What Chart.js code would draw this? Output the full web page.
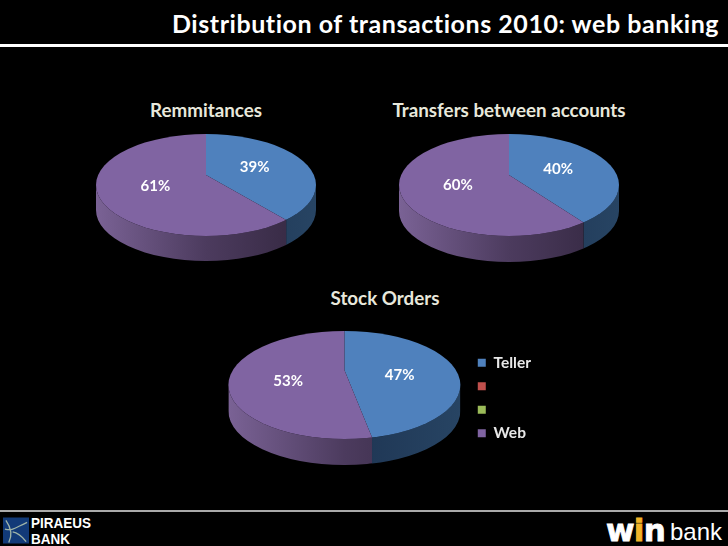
<!DOCTYPE html>
<html>
<head>
<meta charset="utf-8">
<script src="https://cdn.jsdelivr.net/npm/chart.js@4"></script>
<style>
html,body{margin:0;padding:0;background:#000;overflow:hidden}
#slide{position:relative;width:728px;height:546px;background:#000;overflow:hidden;font-family:Lato,sans-serif;font-variant-ligatures:none}
canvas{position:absolute}
.txt{position:absolute;white-space:nowrap;color:#fff}
.head{left:172px;top:8px;font-size:25px;font-weight:700;line-height:30px;letter-spacing:.55px}
.sub{font-size:18.8px;font-weight:700;color:#e8e8dc;line-height:22px;transform:translateX(-50%)}
.rule{position:absolute;left:0;width:728px}
</style>
</head>
<body>
<div id="slide">
  <div class="txt head">Distribution of transactions 2010: web banking</div>
  <div class="rule" style="top:44px;height:3px;background:#fff"></div>
  <div class="txt sub" style="left:206px;top:99px">Remmitances</div>
  <div class="txt sub" style="left:509px;top:99px">Transfers between accounts</div>
  <div class="txt sub" style="left:385px;top:287px">Stock Orders</div>
  <canvas id="remittances" width="232" height="140" style="left:90px;top:125px"></canvas>
  <canvas id="transfers" width="232" height="140" style="left:393px;top:125px"></canvas>
  <canvas id="stock" width="322" height="189" style="left:219px;top:291px"></canvas>
  <div class="rule" style="top:510px;height:2px;background:#aaa"></div>
  <svg style="position:absolute;left:3px;top:517px" width="26" height="27" viewBox="0 0 27 27">
    <rect width="27" height="27" fill="#123a78"/>
    <path d="M2 12C10 14 12 11 25 5M3 3C8 10 10 18 6 26M10 15C16 16 20 20 24 25" fill="none" stroke="#9fb4a8" stroke-width="1.4"/>
  </svg>
  <div class="txt" style="left:31px;top:515px;font:700 15.5px/16px 'Liberation Sans';transform:scaleX(.87);transform-origin:left">PIRAEUS<br>BANK</div>
  <div class="txt" style="left:606px;top:510px;font:700 31px/40px 'DejaVu Sans';letter-spacing:-.8px;-webkit-text-stroke:.8px currentColor">w<span style="color:#f0b428">i</span>n</div>
  <div class="txt" style="left:670px;top:516px;font:400 24px/32px 'Liberation Sans'">bank</div>
</div>
<script>
const categories = ["Teller", "", "", "Web"];
const remittanceValues = [39, 0, 0, 61];
const transferValues = [40, 0, 0, 60];
const stockValues = [47, 0, 0, 53];
const sliceColors = ["#4f81bd", "#c0504d", "#9bbb59", "#8064a2"];
// side wall gradients, left edge of the pie to right edge
const wallColors = [
  ["#1e3553", "#1e3553", "#274463"],
  ["#6b2c2a", "#6b2c2a", "#6b2c2a"],
  ["#56682f", "#56682f", "#56682f"],
  ["#7a6295", "#4c3b5e", "#32263e"]
];

// squashes the pie into a tilted disc with a wall under it
const disc = {
  id: "disc",
  beforeDatasetsDraw(chart, args, opts) {
    const ctx = chart.ctx;
    const arcs = chart.getDatasetMeta(0).data;
    const x = arcs[0].x, y = arcs[0].y;
    const k = opts.ry / opts.rx;
    const s = opts.shift / k;
    const ey = y + opts.shift;
    const hit = a => {
      const t = s * Math.sin(a) + Math.sqrt(s * s * Math.sin(a) * Math.sin(a) - s * s + opts.rx * opts.rx);
      return {x: x + t * Math.cos(a), front: t * Math.sin(a) > s};
    };
    arcs.forEach((arc, i) => {
      if (arc.endAngle - arc.startAngle <= 0) return;
      const a = hit(arc.startAngle), b = hit(arc.endAngle);
      const right = a.front ? a.x : x + opts.rx;
      const left = b.front ? b.x : x - opts.rx;
      const g = ctx.createLinearGradient(x - opts.rx, 0, x + opts.rx, 0);
      g.addColorStop(0, wallColors[i][0]);
      g.addColorStop(0.5, wallColors[i][1]);
      g.addColorStop(1, wallColors[i][2]);
      ctx.save();
      ctx.beginPath();
      ctx.rect(left, 0, right - left, chart.height);
      ctx.clip();
      ctx.beginPath();
      ctx.ellipse(x, ey + opts.depth, opts.rx, opts.ry, 0, 0, Math.PI);
      ctx.ellipse(x, ey, opts.rx, opts.ry, 0, Math.PI, 0, true);
      ctx.closePath();
      ctx.fillStyle = g;
      ctx.fill();
      ctx.restore();
    });
    ctx.save();
    ctx.translate(x, y);
    ctx.scale(1, k);
    ctx.translate(-x, -y);
    ctx.beginPath();
    ctx.arc(x, y + s, opts.rx, 0, Math.PI * 2);
    ctx.clip();
  },
  afterDatasetsDraw(chart, args, opts) {
    const ctx = chart.ctx;
    ctx.restore();
    const arcs = chart.getDatasetMeta(0).data;
    const values = chart.data.datasets[0].data;
    const k = opts.ry / opts.rx;
    ctx.save();
    ctx.font = "700 15px Lato";
    ctx.fillStyle = "#fff";
    ctx.textAlign = "center";
    ctx.textBaseline = "middle";
    arcs.forEach((arc, i) => {
      if (!values[i]) return;
      const mid = (arc.startAngle + arc.endAngle) / 2;
      const r = opts.rx * 0.47;
      const nudge = opts.nudge[i] || [0, 0];
      ctx.fillText(values[i] + "%", arc.x + r * Math.cos(mid) + nudge[0], arc.y + r * k * Math.sin(mid) + nudge[1]);
    });
    ctx.restore();
  }
};

function pie(id, values, shape, legend, padding) {
  const k = shape.ry / shape.rx;
  return new Chart(id, {
    type: "pie",
    plugins: [disc],
    data: {
      labels: categories,
      datasets: [{data: values, backgroundColor: sliceColors, borderWidth: 0, clip: false}]
    },
    options: {
      responsive: false,
      animation: false,
      radius: shape.rx + shape.shift / k + 4,
      layout: {padding: padding},
      plugins: {
        tooltip: {enabled: false},
        disc: shape,
        legend: legend
      }
    }
  });
}

pie("remittances", remittanceValues, {rx: 110, ry: 51, shift: 10, depth: 25, nudge: {3: [-2, 3]}}, {display: false}, {bottom: 40});
pie("transfers", transferValues, {rx: 110, ry: 51, shift: 10, depth: 26, nudge: {0: [0, 2], 3: [-2, 3]}}, {display: false}, {bottom: 40});
pie("stock", stockValues, {rx: 116, ry: 54, shift: 15, depth: 26, nudge: {0: [1, 8], 3: [-2, 9]}}, {
  position: "right",
  align: "end",
  labels: {boxWidth: 8, boxHeight: 8, padding: 8, color: "#e8e8e8", font: {family: "Lato", size: 15.5, weight: "700"}}
}, {bottom: 31});
</script>
</body>
</html>
